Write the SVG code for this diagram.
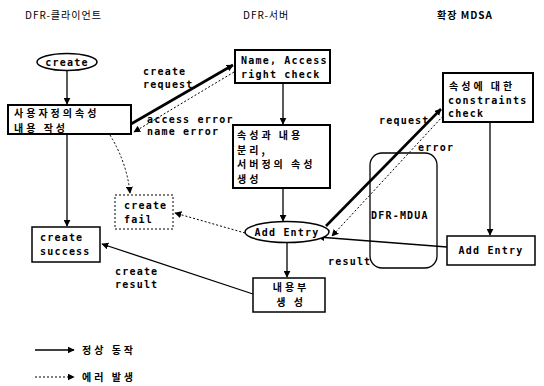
<svg xmlns="http://www.w3.org/2000/svg" width="544" height="386" viewBox="0 0 544 386">
<defs>
<marker id="ah" viewBox="0 0 10 10" refX="9" refY="5" markerWidth="7" markerHeight="7" markerUnits="userSpaceOnUse" orient="auto"><path d="M0,0 L10,5 L0,10 z" fill="#000"/></marker>
<style>
.bx{fill:#fff;stroke:#000;stroke-width:2}
.bx1{fill:#fff;stroke:#000;stroke-width:1.5}
.dbx{fill:#fff;stroke:#000;stroke-width:1;stroke-dasharray:2,2}
.ln{fill:none;stroke:#000;stroke-width:1.3}
.th{fill:none;stroke:#000;stroke-width:2.6}
.dt{fill:none;stroke:#000;stroke-width:1;stroke-dasharray:2,2}
.en{font-family:"DejaVu Sans Mono","Liberation Mono",monospace;font-weight:bold;font-size:10px;letter-spacing:1.2px;fill:#000}
.kr{font-family:"Noto Sans CJK KR","Noto Sans",sans-serif;font-weight:bold;font-size:10px;letter-spacing:3px;fill:#000}
.hd{font-family:"Noto Sans CJK KR","Liberation Sans",sans-serif;font-size:10px;fill:#000;letter-spacing:1px}
</style>
</defs>
<rect width="544" height="386" fill="#fff"/>
<g id="headers">
<text class="hd" x="25" y="19">DFR-클라이언트</text>
<text class="hd" x="243" y="19">DFR-서버</text>
<text class="hd" x="437" y="19" font-weight="bold" font-size="11">확장 MDSA</text>
</g>
<g id="connectors">
<line class="ln" x1="67" y1="71" x2="67" y2="104" marker-end="url(#ah)"/>
<line class="ln" x1="67" y1="135" x2="67" y2="226" marker-end="url(#ah)"/>
<line class="ln" x1="283" y1="84" x2="283" y2="124" marker-end="url(#ah)"/>
<line class="ln" x1="283" y1="189" x2="283" y2="221" marker-end="url(#ah)"/>
<line class="ln" x1="287" y1="243" x2="287" y2="277" marker-end="url(#ah)"/>
<line class="ln" x1="490" y1="123" x2="490" y2="235" marker-end="url(#ah)"/>
<line class="th" x1="131" y1="124" x2="233" y2="65" marker-end="url(#ah)"/>
<line class="dt" x1="234" y1="72" x2="134" y2="132" marker-end="url(#ah)"/>
<line class="th" x1="326" y1="226" x2="441" y2="109" marker-end="url(#ah)"/>
<line class="dt" x1="443" y1="116" x2="332" y2="236" marker-end="url(#ah)"/>
<line class="ln" x1="447" y1="247" x2="318" y2="237" marker-end="url(#ah)"/>
<line class="ln" x1="253" y1="294" x2="102" y2="244" marker-end="url(#ah)"/>
<line class="dt" x1="245" y1="233" x2="175" y2="213" marker-end="url(#ah)"/>
<path class="dt" d="M110,135 Q127,163 130,193" marker-end="url(#ah)"/>
</g>
<g id="labels">
<text class="en" x="143" y="75">create</text>
<text class="en" x="143" y="88">request</text>
<text class="en" x="147" y="123">access error</text>
<text class="en" x="147" y="135">name error</text>
<text class="en" x="379" y="124">request</text>
<text class="en" x="418" y="151">error</text>
<text class="en" x="328" y="265">result</text>
<text class="en" x="115" y="275">create</text>
<text class="en" x="115" y="288">result</text>
</g>
<g id="create">
<ellipse cx="67" cy="62" rx="30" ry="8.5" class="bx1"/>
<text class="en" x="67" y="66" text-anchor="middle">create</text>
</g>
<g id="user-attr">
<rect x="8" y="105" width="123" height="29" class="bx"/>
<text class="kr" x="14" y="117" letter-spacing="4.5">사용자정의속성</text>
<text class="kr" x="14" y="131.5" letter-spacing="4.5">내용 작성</text>
</g>
<g id="create-fail">
<rect x="115" y="195" width="58" height="34" class="dbx"/>
<text class="en" x="124" y="209">create</text>
<text class="en" x="124" y="223">fail</text>
</g>
<g id="create-success">
<rect x="32" y="227" width="68" height="35" class="bx1"/>
<text class="en" x="40" y="241">create</text>
<text class="en" x="40" y="255">success</text>
</g>
<g id="name-check">
<rect x="235" y="50" width="95" height="33" class="bx"/>
<text class="en" x="241" y="64">Name, Access</text>
<text class="en" x="241" y="78">right check</text>
</g>
<g id="split">
<rect x="233" y="125" width="97" height="63" class="bx"/>
<text class="kr" x="237" y="139">속성과 내용</text>
<text class="kr" x="237" y="153.5">분리,</text>
<text class="kr" x="237" y="168">서버정의 속성</text>
<text class="kr" x="237" y="182.5">생성</text>
</g>
<g id="add-entry-server">
<ellipse cx="287" cy="232" rx="42" ry="10.5" class="bx1"/>
<text class="en" x="287" y="236" text-anchor="middle">Add Entry</text>
</g>
<g id="content">
<rect x="253" y="278" width="72" height="34" class="bx1"/>
<text class="kr" x="291" y="291" text-anchor="middle" letter-spacing="4">내용부</text>
<text class="kr" x="291" y="306" text-anchor="middle" letter-spacing="4">생 성</text>
</g>
<g id="mdua">
<rect x="370" y="153" width="67" height="115" rx="12" fill="none" stroke="#000" stroke-width="1.3"/>
<text class="en" x="371" y="219" letter-spacing="0.3">DFR-MDUA</text>
</g>
<g id="constraints">
<rect x="443" y="73" width="90" height="49" class="bx"/>
<text class="kr" x="449" y="90" font-size="10.5" letter-spacing="2.5">속성에 대한</text>
<text class="en" x="448" y="104" letter-spacing="0.6">constraints</text>
<text class="en" x="448" y="117" letter-spacing="0.6">check</text>
</g>
<g id="add-entry-mdsa">
<rect x="447" y="236" width="88" height="29" class="bx1"/>
<text class="en" x="491" y="254" text-anchor="middle">Add Entry</text>
</g>
<g id="legend">
<line class="ln" x1="35" y1="350" x2="74" y2="350" marker-end="url(#ah)"/>
<text class="kr" x="82" y="354" letter-spacing="1">정상 동작</text>
<line class="dt" x1="35" y1="377" x2="74" y2="377" marker-end="url(#ah)"/>
<text class="kr" x="82" y="381" letter-spacing="1">에러 발생</text>
</g>
</svg>
